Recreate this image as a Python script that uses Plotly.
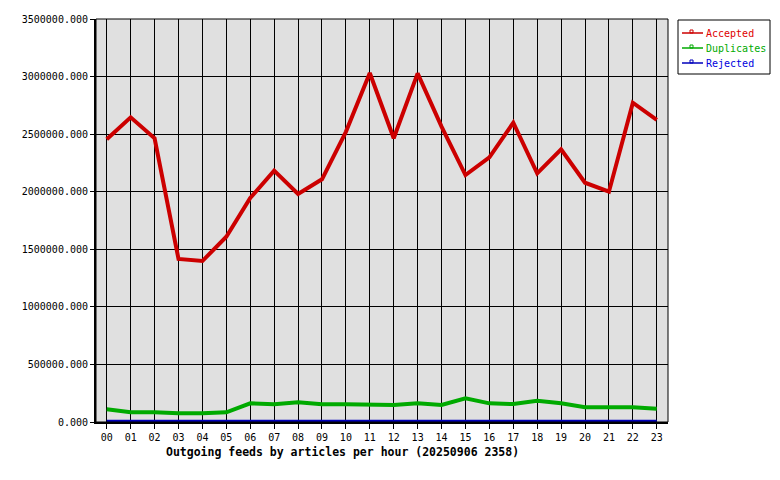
import plotly.graph_objects as go

# dados por hora
horas = ['%02d' % h for h in range(24)]
accepted = [2455000, 2646000, 2464000, 1416000, 1398000, 1609000, 1945000, 2183000,
            1980000, 2108000, 2520000, 3031000, 2464000, 3028000, 2565000, 2145000,
            2299000, 2599000, 2160000, 2368000, 2078000, 2000000, 2773000, 2623000]
duplicates = [110000, 84000, 84000, 75000, 75000, 84000, 162000, 154000,
              171000, 154000, 154000, 154000, 148000, 162000, 148000, 206000,
              162000, 156000, 185000, 162000, 128000, 128000, 128000, 116000]
rejected = [3000, 3000, 3000, 3000, 3000, 3000, 3000, 3000,
            3000, 3000, 3000, 3000, 3000, 3000, 3000, 3000,
            3000, 3000, 3000, 3000, 3000, 3000, 3000, 3000]

series = [
    ('Accepted', accepted, '#cc0000', '#e00000'),
    ('Duplicates', duplicates, '#00aa00', '#00aa00'),
    ('Rejected', rejected, '#0000bb', '#0000dd'),
]

MONO = 'DejaVu Sans Mono'

# a pagina tem margem de 8px no body, entao a figura e deslocada
OFF = 8
FW, FH = 780 - OFF, 480 - OFF

# area do grafico em pixels (coordenadas da tela)
L, R, T, B = 96, 668, 19, 422
W, H = R - L, B - T


def px_x(p):
    return (p - L) / W


def px_y(p):
    return (B - p) / H


fig = go.Figure()

# linhas do grafico (ordem inversa para o vermelho ficar por cima)
for nome, valores, cor, _ in reversed(series):
    fig.add_trace(go.Scatter(
        x=horas, y=valores, mode='lines', name=nome,
        line=dict(color=cor, width=4),
        showlegend=False, hoverinfo='x+y'
    ))

# legenda desenhada a mao
shapes = [dict(type='rect', xref='paper', yref='paper',
               x0=px_x(678), x1=px_x(770), y0=px_y(74), y1=px_y(20),
               fillcolor='white', line=dict(color='black', width=1))]
annotations = []
for i, (nome, _, cor, cor_txt) in enumerate(series):
    yy = 33 + i * 15
    shapes.append(dict(type='line', xref='paper', yref='paper',
                       x0=px_x(682), x1=px_x(703), y0=px_y(yy), y1=px_y(yy),
                       line=dict(color=cor, width=1.5)))
    shapes.append(dict(type='rect', xref='paper', yref='paper',
                       x0=px_x(690), x1=px_x(693), y0=px_y(yy), y1=px_y(yy - 3),
                       line=dict(color=cor, width=1)))
    annotations.append(dict(text=nome, xref='paper', yref='paper',
                            x=px_x(704), y=px_y(yy), xanchor='left', yanchor='middle',
                            showarrow=False,
                            font=dict(family=MONO, size=10, color=cor_txt)))

annotations.append(dict(
    text='<b>Outgoing feeds by articles per hour (20250906 2358)</b>',
    xref='paper', yref='paper', x=px_x(342), y=px_y(452),
    xanchor='center', yanchor='middle', showarrow=False,
    font=dict(family=MONO, size=11.5, color='black')
))

# borda direita e superior
shapes.append(dict(type='rect', xref='paper', yref='paper', x0=0, y0=0, x1=1, y1=1,
                   line=dict(color='black', width=1), layer='above'))

fig.update_layout(
    width=FW, height=FH,
    margin=dict(l=L - OFF, r=780 - R, t=T - OFF, b=480 - B, autoexpand=False),
    paper_bgcolor='white',
    plot_bgcolor='#e0e0e0',
    font=dict(family=MONO, size=10, color='black'),
    showlegend=False,
    shapes=shapes,
    annotations=annotations,
)

fig.update_xaxes(
    type='category', range=[-0.45, 23.47], automargin=False,
    showgrid=True, gridcolor='black', gridwidth=1,
    showline=True, linecolor='black', linewidth=2,
    ticks='outside', ticklen=5, tickcolor='black', tickwidth=1,
    tickfont=dict(family=MONO, size=10), zeroline=False,
)
fig.update_yaxes(
    range=[0, 3500000], dtick=500000, tickformat='.3f', automargin=False,
    showgrid=True, gridcolor='black', gridwidth=1,
    showline=True, linecolor='black', linewidth=2,
    ticks='outside', ticklen=4, tickcolor='black', tickwidth=1,
    tickfont=dict(family=MONO, size=10), zeroline=False,
)

fig.write_html("out.html")
